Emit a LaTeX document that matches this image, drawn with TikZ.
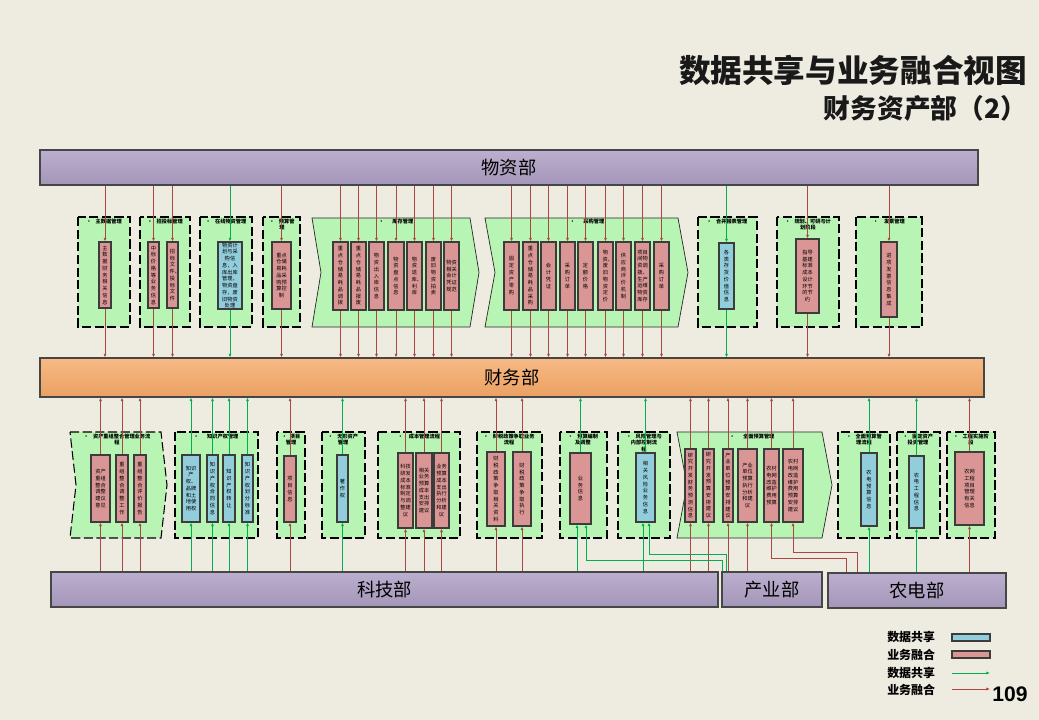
\documentclass[tikz,border=0pt]{standalone}
\usepackage{fontspec}
\setmainfont{Noto Sans CJK SC}
\newfontfamily\numfont{Liberation Sans}
\usetikzlibrary{arrows.meta,positioning,calc}
\XeTeXlinebreaklocale "zh"
\XeTeXlinebreakskip=0pt plus 1pt
\setlength{\parindent}{0pt}
\definecolor{pagebg}{RGB}{238,235,225}
\definecolor{grpgreen}{RGB}{184,245,180}
\definecolor{ywred}{RGB}{217,150,148}
\definecolor{sjblue}{RGB}{146,205,220}
\definecolor{boxedge}{RGB}{60,60,60}
\definecolor{ywarrow}{RGB}{172,70,64}
\definecolor{sjarrow}{RGB}{0,176,80}
\definecolor{purpletop}{RGB}{188,174,206}
\definecolor{purplebot}{RGB}{164,150,184}
\definecolor{orangetop}{RGB}{247,186,134}
\definecolor{orangebot}{RGB}{234,160,98}
\definecolor{deptedge}{RGB}{70,70,70}
% box from pixel corners: name, style, x1, y1, x2, y2, text
\newcommand{\infobox}[7]{%
  \node[#2, minimum width={(#5-#3)*0.025cm}, minimum height={(#6-#4)*0.025cm}]
    (#1) at ({(#3+#5)/2},{(#4+#6)/2}) {#7};}
% dashed group frame
\newcommand{\grpframe}[4]{\draw[grp] (#1,#2) rectangle (#3,#4);}
% chevron frame: x1, y1, x2, y2, depth, style
\newcommand{\grpchevron}[6]{%
  \draw[#6] (#1,#2) -- ({#3-#5},#2) -- (#3,{(#2+#4)/2}) -- ({#3-#5},#4)
    -- (#1,#4) -- ({#1+#5},{(#2+#4)/2}) -- cycle;}

\begin{document}
\begin{tikzpicture}[x=0.025cm, y=-0.025cm,
  grp/.style={fill=grpgreen, draw=black, line width=0.75pt, dash pattern=on 6.5pt off 2.5pt},
  chev/.style={fill=grpgreen, draw=black!85, line width=0.5pt},
  grptitle/.style={font=\fontsize{3.7}{4.4}\selectfont\bfseries, align=center, inner sep=0pt},
  infobase/.style={draw=boxedge, line width=0.75pt, inner sep=0pt, align=center,
    text width=4pt, font=\fontsize{3.7}{4.8}\selectfont},
  yw/.style={infobase, fill=ywred},
  sj/.style={infobase, fill=sjblue},
  twocol/.style={text width=8pt},
  threecol/.style={text width=11.6pt},
  dept/.style={draw=deptedge, line width=0.8pt, top color=purpletop, bottom color=purplebot,
    inner sep=0pt, font=\fontsize{13}{15}\selectfont},
  caiwubar/.style={dept, top color=orangetop, bottom color=orangebot},
  ywline/.style={draw=ywarrow, line width=0.6pt, -{Latex[length=2.6pt,width=2.2pt]}},
  sjline/.style={draw=sjarrow, line width=0.6pt, -{Latex[length=2.6pt,width=2.2pt]}},
  legtext/.style={font=\fontsize{8.5}{10}\selectfont\bfseries, anchor=west, inner sep=0pt}]

  % page
  \fill[pagebg] (0,0) rectangle (1039,720);
  \useasboundingbox (0,0) rectangle (1039,720);

  % title
  \node[anchor=east, font=\fontsize{22.5}{26}\selectfont\bfseries, text=black!90] (title) at (1032,70) {数据共享与业务融合视图};
  \node[anchor=west, font=\fontsize{19}{22}\selectfont\bfseries, text=black!90] (subtitle) at (819,108) {财务资产部（2）};

  % departments
  \infobox{wuzi}{dept}{40}{150}{978}{185}{物资部}
  \infobox{caiwu}{caiwubar}{40}{358}{984}{397}{财务部}
  \infobox{keji}{dept}{51}{572}{718}{607}{科技部}
  \infobox{chanye}{dept}{722}{572}{822}{607}{产业部}
  \infobox{nongdian}{dept}{828}{573}{1006}{608}{农电部}

  % upper groups
  \grpframe{78}{217}{130}{327}
  \grpframe{140}{217}{190}{327}
  \grpframe{200}{217}{252}{327}
  \grpframe{263}{217}{300}{327}
  \grpchevron{312}{218}{479}{327}{9}{chev}
  \grpchevron{485}{218}{688}{327}{10}{chev}
  \grpframe{698}{217}{757}{327}
  \grpframe{777}{217}{839}{327}
  \grpframe{856}{217}{922}{327}

  \node[grptitle] (h1) at (104,222) {•\hspace{3pt}主数据管理};
  \node[grptitle] (h2) at (165,222) {•\hspace{3pt}招投标管理};
  \node[grptitle] (h3) at (226,222) {•\hspace{3pt}在线物资管理};
  \node[grptitle, anchor=north] (h4) at (282,219) {•\hspace{3pt}预算管\\理};
  \node[grptitle] (h5) at (396,222) {•\hspace{6pt}库存管理};
  \node[grptitle] (h6) at (587,222) {•\hspace{6pt}采购管理};
  \node[grptitle] (h7) at (727,222) {•\hspace{3pt}合并报表管理};
  \node[grptitle, anchor=north] (h8) at (808,219) {•\hspace{3pt}规划、可研与计\\划阶段};
  \node[grptitle] (h9) at (889,222) {•\hspace{4pt}发票管理};

  % upper boxes
  \infobox{t1}{yw}{99}{242}{111}{308}{主数据财务相关信息}
  \infobox{t2a}{yw}{148}{242}{159}{308}{中标价格等业务信息}
  \infobox{t2b}{yw}{167}{242}{178}{308}{招标文件、投标文件}
  \infobox{t3}{sj,threecol}{218}{242}{242}{309}{物资计划与采购信息，入库出库管理，物资盘存，废旧物资处理}
  \infobox{t4}{yw,twocol}{272}{242}{291}{309}{重点仓储易耗品采购预算控制}
  \infobox{t5a}{yw}{333}{242}{348}{310}{重点仓储易耗品调拨}
  \infobox{t5b}{yw}{351}{242}{366}{310}{重点仓储易耗品报废}
  \infobox{t5c}{yw}{369}{242}{384}{310}{物资出入库信息}
  \infobox{t5d}{yw}{388}{242}{404}{310}{物资盘点信息}
  \infobox{t5e}{yw}{407}{242}{422}{310}{物资退库、利库}
  \infobox{t5f}{yw}{426}{242}{441}{310}{废旧物资拍卖}
  \infobox{t5g}{yw,twocol}{444}{242}{459}{310}{物资相关会计凭证规范}
  \infobox{t6a}{yw}{504}{242}{519}{310}{固定资产零购}
  \infobox{t6b}{yw}{523}{242}{538}{310}{重点仓储易耗品采购}
  \infobox{t6c}{yw}{541}{242}{556}{310}{会计凭证}
  \infobox{t6d}{yw}{560}{242}{575}{310}{采购订单}
  \infobox{t6e}{yw}{578}{242}{593}{310}{定额价格}
  \infobox{t6f}{yw}{598}{242}{613}{310}{物资、废旧物资定价}
  \infobox{t6g}{yw}{616}{242}{631}{310}{供应商评价机制}
  \infobox{t6h}{yw,twocol}{635}{242}{650}{310}{项目间物资调拨、生产运维物资库存}
  \infobox{t6i}{yw}{654}{242}{669}{310}{采购订单}
  \infobox{t7}{sj}{719}{243}{734}{309}{各类存货价值信息}
  \infobox{t8}{yw,twocol}{796}{239}{819}{313}{指导基建标准成本设计环节的节约}
  \infobox{t9}{yw}{881}{242}{897}{317}{进项发票信息集成}

  % lower groups
  \grpchevron{70}{432}{167}{538}{6}{grp}
  \grpframe{175}{432}{258}{538}
  \grpframe{277}{432}{305}{538}
  \grpframe{322}{432}{365}{538}
  \grpframe{378}{432}{460}{538}
  \grpframe{477}{432}{542}{538}
  \grpframe{560}{432}{607}{538}
  \grpframe{618}{432}{670}{538}
  \grpchevron{677}{432}{832}{538}{10}{chev}
  \grpframe{838}{432}{890}{538}
  \grpframe{897}{432}{940}{538}
  \grpframe{947}{432}{995}{538}

  \node[grptitle, anchor=north] (k1) at (117,434) {•\hspace{3pt}资产重组整合管理业务流\\程};
  \node[grptitle] (k2) at (216,437) {•\hspace{6pt}知识产权管理};
  \node[grptitle, anchor=north] (k3) at (291,434) {•\hspace{2pt}项目\\管理};
  \node[grptitle, anchor=north] (k4) at (343,434) {•\hspace{3pt}无形资产\\管理};
  \node[grptitle] (k5) at (419,437) {•\hspace{4pt}成本管理流程};
  \node[grptitle, anchor=north] (k6) at (509,434) {•\hspace{3pt}财税政策争取业务\\流程};
  \node[grptitle, anchor=north] (k7) at (583,434) {•\hspace{3pt}预算编制\\及调整};
  \node[grptitle, anchor=north] (k8) at (644,434) {•\hspace{3pt}风险管理与\\内部控制流\\程};
  \node[grptitle] (k9) at (752,437) {•\hspace{6pt}全面预算管理};
  \node[grptitle, anchor=north] (k10) at (864,434) {•\hspace{3pt}全面预算管\\理流程};
  \node[grptitle, anchor=north] (k11) at (918,434) {•\hspace{3pt}固定资产\\投资管理};
  \node[grptitle, anchor=north] (k12) at (971,434) {•\hspace{3pt}工程实施阶\\段};

  % lower boxes
  \infobox{b1a}{yw,twocol}{91}{455}{110}{522}{资产重组整合调整建议意见}
  \infobox{b1b}{yw}{116}{455}{128}{522}{重组整合调整工作}
  \infobox{b1c}{yw}{134}{455}{146}{522}{重组整合评价报告}
  \infobox{b2a}{sj,twocol}{182}{455}{200}{522}{知识产权、品牌和土地使用权}
  \infobox{b2b}{sj}{207}{455}{218}{522}{知识产权合同信息}
  \infobox{b2c}{sj}{223}{455}{235}{522}{知识产权转让}
  \infobox{b2d}{sj}{242}{455}{253}{522}{知识产权划分标准}
  \infobox{b3}{yw}{284}{456}{296}{522}{项目信息}
  \infobox{b4}{sj}{337}{455}{348}{522}{著作权}
  \infobox{b5a}{yw,twocol}{398}{453}{413}{528}{科技研发成本标准制定与调整建议}
  \infobox{b5b}{yw,twocol}{416}{453}{432}{528}{相关业务预算成本支出安排建议}
  \infobox{b5c}{yw,twocol}{434}{453}{449}{528}{业务预算成本支出执行分析和建议}
  \infobox{b6a}{yw}{487}{452}{505}{526}{财税政策争取相关资料}
  \infobox{b6b}{yw}{513}{452}{531}{526}{财税政策争取执行}
  \infobox{b7}{yw}{570}{453}{591}{524}{业务信息}
  \infobox{b8}{sj}{636}{453}{655}{522}{相关风险业务信息}
  \infobox{b9a}{yw}{685}{449}{696}{522}{研究开发财务预测信息}
  \infobox{b9b}{yw}{703}{449}{714}{522}{研究开发预算安排建议}
  \infobox{b9c}{yw}{723}{449}{733}{522}{产业单位预算安排建议}
  \infobox{b9d}{yw,twocol}{738}{449}{757}{522}{产业单位预算执行分析和建议}
  \infobox{b9e}{yw,twocol}{764}{449}{779}{522}{农村电网改造维护费用预算}
  \infobox{b9f}{yw,twocol}{783}{449}{803}{522}{农村电网改造维护费用预算安排建议}
  \infobox{b10}{sj}{861}{453}{877}{526}{农电预算信息}
  \infobox{b11}{sj}{909}{456}{924}{528}{农电工程信息}
  \infobox{b12}{yw,twocol}{955}{452}{984}{525}{农网工程项目管理有关信息}

  % upper connectors: 物资部 -> box -> 财务部
  \foreach \b in {t1,t2a,t2b,t4,t5a,t5b,t5c,t5d,t5e,t5f,t5g,t6a,t6b,t6c,t6d,t6e,t6f,t6g,t6h,t6i,t8,t9} {
    \draw[ywline] (\b.north |- wuzi.south) -- (\b.north);
    \draw[ywline] (\b.south) -- (\b.south |- caiwu.north);
  }
  \foreach \b in {t3,t7} {
    \draw[sjline] (\b.north |- wuzi.south) -- (\b.north);
    \draw[sjline] (\b.south) -- (\b.south |- caiwu.north);
  }

  % lower connectors: department -> box -> 财务部
  \foreach \b/\d in {b1a/keji,b1b/keji,b1c/keji,b3/keji,b5a/keji,b5b/keji,b5c/keji,b6a/keji,b6b/keji,b9a/keji,b9b/keji,b9c/chanye,b9d/chanye,b12/nongdian} {
    \draw[ywline] (\b.south |- \d.north) -- (\b.south);
    \draw[ywline] (\b.north) -- (\b.north |- caiwu.south);
  }
  \foreach \b/\d in {b2a/keji,b2b/keji,b2c/keji,b2d/keji,b4/keji,b10/nongdian,b11/nongdian} {
    \draw[sjline] (\b.south |- \d.north) -- (\b.south);
    \draw[sjline] (\b.north) -- (\b.north |- caiwu.south);
  }
  \foreach \b in {b7,b8} \draw[sjline] (\b.north) -- (\b.north |- caiwu.south);
  \foreach \b in {b9e,b9f} \draw[ywline] (\b.north) -- (\b.north |- caiwu.south);

  % routed lines
  \coordinate (b7l) at ($(b7.south)+(-3.5,0)$);
  \coordinate (b7r) at ($(b7.south)+(5.5,0)$);
  \coordinate (b8l) at ($(b8.south)+(-2.5,0)$);
  \coordinate (b8r) at ($(b8.south)+(3.5,0)$);
  \draw[sjline] (b7l |- keji.north) -- (b7l);
  \draw[sjline] (b8l |- keji.north) -- (b8l);
  \draw[sjline] ($(chanye.north west)+(1,0)$) -- ++(0,-11) -| (b7r);
  \draw[sjline] ($(chanye.north west)+(5,0)$) -- ++(0,-17) -| (b8r);
  \draw[ywline] ($(nongdian.north west)+(19,0)$) -- ++(0,-14) -| (b9e.south);
  \draw[ywline] ($(nongdian.north west)+(30,0)$) -- ++(0,-20) -| (b9f.south);

  % legend
  \node[legtext] (lg1) at (887,637) {数据共享};
  \node[legtext] (lg2) at (887,655) {业务融合};
  \node[legtext] (lg3) at (887,673) {数据共享};
  \node[legtext] (lg4) at (887,690) {业务融合};
  \infobox{lgsj}{sj}{952}{634}{990}{641}{}
  \infobox{lgyw}{yw}{952}{651}{990}{658}{}
  \coordinate (lga) at (952,673);
  \coordinate (lgb) at (952,689);
  \draw[sjline] (lga) -- ++(38,0);
  \draw[ywline] (lgb) -- ++(38,0);
  \node[font=\numfont\bfseries\fontsize{15}{17}\selectfont] (pagenum) at (1010,694) {109};
\end{tikzpicture}
\end{document}
